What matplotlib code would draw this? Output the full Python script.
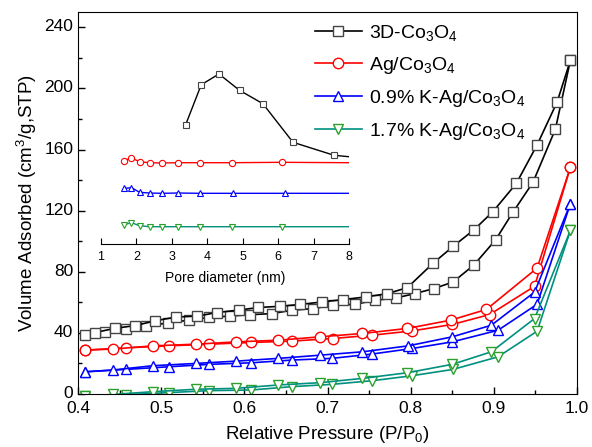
import matplotlib
matplotlib.use("Agg")
import matplotlib.pyplot as plt
import matplotlib.transforms as mtrans
from matplotlib.ticker import MultipleLocator

plt.rcParams['font.family'] = ['Liberation Sans', 'DejaVu Sans']
plt.rcParams['mathtext.fontset'] = 'custom'
plt.rcParams['mathtext.rm'] = 'Liberation Sans'
plt.rcParams['mathtext.it'] = 'Liberation Sans:italic'

# ---- isotherms (P/P0, volume adsorbed), adsorption + desorption branches
labels = ['3D-Co$_3$O$_4$', 'Ag/Co$_3$O$_4$',
          '0.9% K-Ag/Co$_3$O$_4$', '1.7% K-Ag/Co$_3$O$_4$']

co_ads_p = [0.408, 0.433, 0.458, 0.482, 0.508, 0.533, 0.557, 0.583, 0.607, 0.633, 0.657,
            0.683, 0.707, 0.733, 0.757, 0.782, 0.805, 0.828, 0.851, 0.876, 0.902, 0.923,
            0.947, 0.974, 0.992]
co_ads_v = [38.5, 40.4, 42.8, 44.4, 46.5, 48.3, 50.1, 51.0, 51.9, 52.6, 54.8,
            55.9, 58.1, 58.7, 61.3, 62.8, 65.7, 69.0, 73.3, 84.4, 100.8, 119.0,
            138.5, 173.3, 218.3]
co_des_p = [0.420, 0.445, 0.469, 0.493, 0.518, 0.543, 0.567, 0.593, 0.617, 0.643, 0.667,
            0.693, 0.719, 0.746, 0.772, 0.796, 0.827, 0.851, 0.876, 0.899, 0.927, 0.952,
            0.976, 0.992]
co_des_v = [40.2, 43.0, 44.8, 47.9, 50.4, 50.9, 53.3, 54.9, 56.6, 57.4, 58.6,
            60.2, 61.8, 63.5, 65.7, 69.6, 85.6, 96.6, 107.4, 119.4, 137.8, 163.0,
            191.0, 218.3]

ag_ads_p = [0.408, 0.458, 0.509, 0.558, 0.608, 0.657, 0.706, 0.754, 0.802, 0.850, 0.895,
            0.949, 0.992]
ag_ads_v = [28.7, 30.2, 31.5, 32.6, 33.7, 34.6, 36.3, 38.5, 41.3, 45.5, 52.0, 70.5, 148.3]
ag_des_p = [0.408, 0.442, 0.490, 0.542, 0.590, 0.641, 0.691, 0.742, 0.796, 0.848, 0.891,
            0.952, 0.992]
ag_des_v = [28.7, 29.4, 31.5, 32.6, 34.1, 35.2, 37.4, 39.6, 42.9, 48.3, 55.3, 82.4, 148.3]

k09_ads_p = [0.408, 0.458, 0.509, 0.558, 0.608, 0.657, 0.705, 0.753, 0.802, 0.850, 0.905,
             0.952, 0.992]
k09_ads_v = [14.5, 16.1, 17.8, 19.4, 20.4, 22.2, 23.3, 26.1, 29.8, 34.1, 41.7, 58.7, 124.5]
k09_des_p = [0.408, 0.442, 0.490, 0.542, 0.590, 0.641, 0.691, 0.742, 0.797, 0.850, 0.897,
             0.949, 0.992]
k09_des_v = [14.5, 15.7, 18.5, 20.0, 21.5, 23.3, 25.4, 27.6, 31.5, 37.4, 45.0, 66.7, 124.5]

k17_ads_p = [0.408, 0.458, 0.509, 0.558, 0.608, 0.657, 0.705, 0.754, 0.801, 0.851, 0.905,
             0.952, 0.992]
k17_ads_v = [-1.5, -0.5, 0.9, 2.2, 2.6, 4.8, 6.3, 8.7, 11.9, 16.1, 24.3, 41.1, 107.0]
k17_des_p = [0.408, 0.442, 0.490, 0.542, 0.590, 0.641, 0.691, 0.742, 0.796, 0.850, 0.897,
             0.949, 0.992]
k17_des_v = [-1.5, -0.3, 1.5, 3.1, 3.7, 5.9, 7.4, 10.2, 13.9, 19.4, 27.6, 49.4, 107.0]

# ---- inset: pore size distribution (pore diameter nm, arbitrary units, curves offset)
psd_co_d = [3.39, 3.83, 4.33, 4.91, 5.57, 6.42, 7.58, 8.0]
psd_co_y = [119.3, 159.3, 170.0, 153.7, 140.3, 101.7, 88.7, 87.3]
psd_ag_d = [1.65, 1.86, 2.09, 2.37, 2.72, 3.18, 3.79, 4.69, 6.10, 8.0]
psd_ag_y = [83.3, 86.0, 82.3, 81.3, 81.0, 81.3, 81.3, 81.3, 81.7, 81.3]
psd_k09_d = [1.66, 1.86, 2.09, 2.37, 2.72, 3.18, 3.79, 4.72, 6.19, 8.0]
psd_k09_y = [55.7, 56.3, 51.7, 51.0, 50.7, 51.0, 50.7, 50.7, 50.7, 50.7]
psd_k17_d = [1.65, 1.86, 2.09, 2.37, 2.72, 3.18, 3.79, 4.69, 6.10, 8.0]
psd_k17_y = [19.3, 21.3, 18.3, 17.3, 17.3, 17.3, 17.3, 17.3, 17.3, 17.3]

line_cols = ['black', 'red', 'blue', '#009080']
mk_cols = ['#444444', 'red', 'blue', '#2ca02c']
markers = ['s', 'o', '^', 'v']

fig = plt.figure(figsize=(5.92, 4.47), dpi=100)
ax = fig.add_axes([0.1318, 0.1186, 0.8429, 0.8546])

branches = [(co_ads_p, co_ads_v, co_des_p, co_des_v),
            (ag_ads_p, ag_ads_v, ag_des_p, ag_des_v),
            (k09_ads_p, k09_ads_v, k09_des_p, k09_des_v),
            (k17_ads_p, k17_ads_v, k17_des_p, k17_des_v)]

for i, (ap, av, dp, dv) in enumerate(branches):
    style = dict(color=line_cols[i], marker=markers[i], ms=7.5, mfc='white',
                 mec=mk_cols[i], mew=1.0, lw=1.2)
    ax.plot(ap, av, label=labels[i], **style)
    ax.plot(dp, dv, **style)

ax.set_xlim(0.4, 1.0)
ax.set_ylim(0, 250)
ax.xaxis.set_major_locator(MultipleLocator(0.1))
ax.xaxis.set_minor_locator(MultipleLocator(0.05))
ax.yaxis.set_major_locator(MultipleLocator(40))
ax.yaxis.set_minor_locator(MultipleLocator(20))
ax.tick_params(which='both', direction='in', labelsize=12.5)
ax.tick_params(axis='x', pad=5)
ax.tick_params(which='major', length=5, width=1)
ax.tick_params(which='minor', length=3, width=1)
ax.set_xlabel('Relative Pressure (P/P$_0$)', fontsize=13.5, labelpad=6)
ax.set_ylabel('Volume Adsorbed (cm$^3$/g,STP)', fontsize=13.5)

# y tick labels sit a touch above their ticks in the original
lift = mtrans.ScaledTranslation(0, 2 / 100, fig.dpi_scale_trans)
for lbl in ax.get_yticklabels():
    lbl.set_transform(lbl.get_transform() + lift)

ax.legend(loc='upper left', frameon=False, fontsize=14, handlelength=2.4,
          handletextpad=0.4, labelspacing=0.62, borderpad=0, borderaxespad=0,
          bbox_to_anchor=(0.475, 0.972))

# inset
ins = fig.add_axes([0.1706, 0.4541, 0.4189, 0.3893])
ins.patch.set_alpha(0)
psd = [(psd_co_d, psd_co_y), (psd_ag_d, psd_ag_y), (psd_k09_d, psd_k09_y), (psd_k17_d, psd_k17_y)]
for i, (d, y) in enumerate(psd):
    ins.plot(d, y, color=line_cols[i], marker=markers[i], ms=4.5, mfc='white',
             mec=mk_cols[i], mew=0.8, lw=1.0, markevery=list(range(len(d) - 1)))
ins.set_xlim(1, 8)
ins.set_ylim(0, 174)
for s in ['left', 'top', 'right']:
    ins.spines[s].set_visible(False)
ins.set_yticks([])
ins.xaxis.set_major_locator(MultipleLocator(1))
ins.tick_params(axis='x', direction='in', labelsize=9, length=4, pad=5)
ins.set_xlabel('Pore diameter (nm)', fontsize=10, labelpad=6)

fig.savefig('out.png', dpi=100)
